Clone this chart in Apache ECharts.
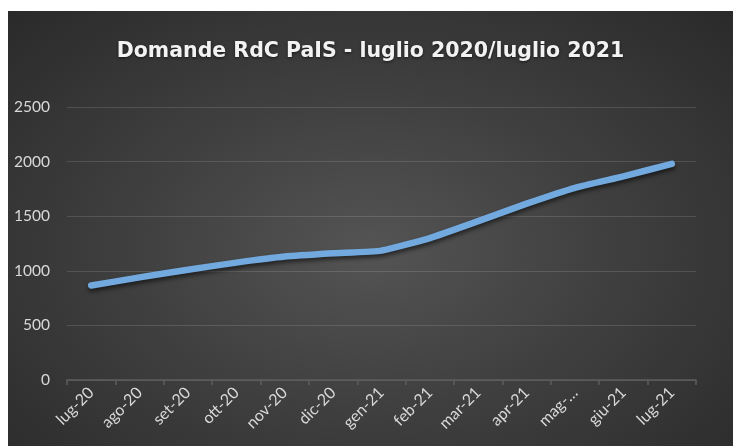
<!doctype html>
<html>
<head>
    <meta charset="utf-8">
    <title>Domande RdC PaIS</title>
    <script src="https://cdn.jsdelivr.net/npm/echarts@6/dist/echarts.min.js"></script>
    <style>
        html, body { margin: 0; padding: 0; background: #ffffff; }
        #chart {
            position: absolute;
            left: 8px; top: 11px;
            width: 725px; height: 435px;
            background: radial-gradient(ellipse at 50% 55%, #545454 0%, #404040 45%, #2a2a2a 100%);
        }
    </style>
</head>
<body>
<div id="chart"></div>
<script>
var titleText = 'Domande RdC PaIS - luglio 2020/luglio 2021'
var categories = ['lug-20','ago-20','set-20','ott-20','nov-20','dic-20','gen-21','feb-21','mar-21','apr-21','mag-21','giu-21','lug-21']
var tickLabels = ['lug-20','ago-20','set-20','ott-20','nov-20','dic-20','gen-21','feb-21','mar-21','apr-21','mag-…','giu-21','lug-21']
var domande = [865, 940, 1010, 1075, 1130, 1160, 1185, 1300, 1455, 1615, 1760, 1865, 1980]

var labelFont = 'Lato, "Open Sans", sans-serif'

var option = {
    backgroundColor: 'transparent',
    title: {
        text: titleText,
        left: 'center',
        top: 25,
        textStyle: {
            color: '#f2f2f2',
            fontFamily: '"DejaVu Sans", sans-serif',
            fontWeight: 'bold',
            fontSize: 20.5,
            textShadowColor: 'rgba(0,0,0,0.6)',
            textShadowBlur: 3,
            textShadowOffsetY: 1
        }
    },
    grid: { left: 59, right: 37, top: 96, bottom: 66 },
    xAxis: {
        type: 'category',
        data: categories,
        boundaryGap: true,
        axisLine: { lineStyle: { color: '#5e5e5e', width: 1.5 } },
        axisTick: { show: true, length: 5, lineStyle: { color: '#5e5e5e', width: 1.5 } },
        axisLabel: {
            interval: 0,
            rotate: 45,
            margin: 10,
            color: '#d9d9d9',
            fontFamily: labelFont,
            fontSize: 16,
            formatter: function (v, i) { return tickLabels[i] }
        }
    },
    yAxis: {
        type: 'value',
        min: 0,
        max: 2500,
        interval: 500,
        axisLine: { show: false },
        axisTick: { show: false },
        axisLabel: {
            margin: 17,
            color: '#d9d9d9',
            fontFamily: labelFont,
            fontSize: 15.5,
            formatter: function (v) { return String(v) }
        },
        splitLine: { lineStyle: { color: 'rgba(255,255,255,0.13)', width: 1 } }
    },
    series: [
        {
            name: 'Domande',
            type: 'line',
            data: domande,
            symbol: 'none',
            smooth: 0.15,
            lineStyle: {
                color: '#72a9de',
                width: 6.5,
                cap: 'round',
                join: 'round',
                shadowColor: 'rgba(0,0,0,0.55)',
                shadowBlur: 4,
                shadowOffsetY: 3
            }
        }
    ]
}

var myChart = echarts.init(document.getElementById('chart'))
myChart.setOption(option)
</script>
</body>
</html>
